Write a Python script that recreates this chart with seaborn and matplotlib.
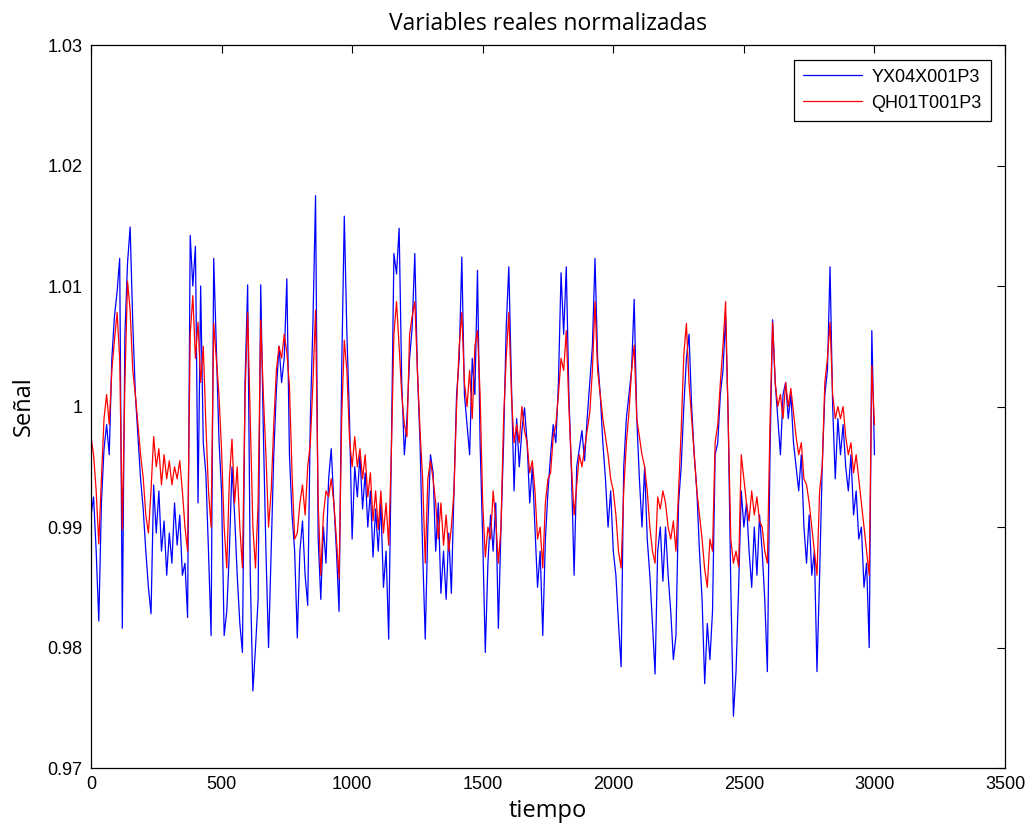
import numpy as np
import pandas as pd
import matplotlib
matplotlib.use("Agg")
import matplotlib.pyplot as plt
import seaborn as sns

# Sample index (every 10 samples)
tiempo = list(range(0, 3001, 10))

yx04 = [
    0.9909, 0.9925, 0.9880, 0.9822, 0.9920, 0.9965, 0.9985, 0.9960, 1.0040, 1.0075,
    1.0095, 1.0123, 0.9816, 1.0060, 1.0119, 1.0149, 1.0070, 1.0010, 0.9975, 0.9940,
    0.9915, 0.9880, 0.9850, 0.9828, 0.9935, 0.9895, 0.9930, 0.9880, 0.9905, 0.9860,
    0.9895, 0.9870, 0.9920, 0.9885, 0.9910, 0.9860, 0.9870, 0.9825, 1.0142, 1.0100,
    1.0133, 0.9920, 1.0100, 0.9970, 0.9944, 0.9880, 0.9810, 1.0123, 1.0050, 0.9973,
    0.9930, 0.9810, 0.9830, 0.9880, 0.9950, 0.9910, 0.9860, 0.9820, 0.9796, 1.0020,
    1.0101, 0.9860, 0.9764, 0.9800, 0.9840, 1.0101, 0.9980, 0.9880, 0.9800, 0.9880,
    0.9960, 1.0014, 1.0050, 1.0020, 1.0040, 1.0106, 0.9960, 0.9910, 0.9880, 0.9808,
    0.9880, 0.9905, 0.9860, 0.9835, 0.9990, 1.0070, 1.0175, 0.9890, 0.9840, 0.9900,
    0.9870, 0.9940, 0.9965, 0.9920, 0.9880, 0.9830, 1.0030, 1.0158, 1.0060, 0.9990,
    0.9890, 0.9950, 0.9925, 0.9960, 0.9915, 0.9945, 0.9900, 0.9930, 0.9875, 0.9915,
    0.9880, 0.9920, 0.9850, 0.9880, 0.9807, 0.9960, 1.0127, 1.0110, 1.0148, 1.0020,
    0.9960, 0.9990, 1.0040, 1.0066, 1.0127, 1.0030, 0.9970, 0.9880, 0.9807, 0.9900,
    0.9960, 0.9945, 0.9880, 0.9920, 0.9845, 0.9880, 0.9840, 0.9895, 0.9845, 0.9930,
    1.0010, 1.0040, 1.0124, 1.0010, 0.9985, 0.9960, 1.0040, 1.0010, 1.0113, 0.9970,
    0.9890, 0.9796, 0.9870, 0.9910, 0.9880, 0.9920, 0.9816, 0.9900, 0.9970, 1.0066,
    1.0116, 1.0020, 0.9930, 0.9990, 0.9950, 0.9980, 0.9999, 0.9970, 0.9920, 0.9950,
    0.9900, 0.9850, 0.9880, 0.9810, 0.9890, 0.9930, 0.9960, 0.9985, 0.9970, 1.0020,
    1.0111, 1.0060, 1.0116, 1.0010, 0.9944, 0.9860, 0.9950, 0.9965, 0.9980, 0.9955,
    0.9990, 1.0020, 1.0050, 1.0123, 1.0040, 1.0010, 0.9970, 0.9940, 0.9900, 0.9930,
    0.9880, 0.9860, 0.9820, 0.9784, 0.9950, 0.9990, 1.0010, 1.0030, 1.0089, 0.9990,
    0.9940, 0.9900, 0.9950, 0.9890, 0.9860, 0.9820, 0.9778, 0.9880, 0.9900, 0.9855,
    0.9900, 0.9860, 0.9830, 0.9790, 0.9810, 0.9920, 0.9950, 1.0000, 1.0040, 1.0060,
    1.0000, 0.9960, 0.9930, 0.9880, 0.9840, 0.9770, 0.9820, 0.9790, 0.9830, 0.9960,
    0.9970, 1.0010, 1.0030, 1.0075, 0.9990, 0.9850, 0.9743, 0.9780, 0.9850, 0.9930,
    0.9900, 0.9920, 0.9880, 0.9850, 0.9900, 0.9860, 0.9910, 0.9880, 0.9840, 0.9780,
    0.9960, 1.0072, 1.0020, 0.9990, 0.9960, 1.0010, 1.0020, 0.9990, 1.0010, 0.9970,
    0.9950, 0.9930, 0.9960, 0.9900, 0.9870, 0.9910, 0.9860, 0.9880, 0.9780, 0.9860,
    0.9950, 1.0010, 1.0030, 1.0116, 1.0000, 0.9940, 0.9990, 0.9960, 0.9985, 0.9950,
    0.9930, 0.9960, 0.9910, 0.9930, 0.9890, 0.9900, 0.9850, 0.9870, 0.9800, 1.0063,
    0.9960,
]

qh01 = [
    0.9975, 0.9960, 0.9930, 0.9886, 0.9940, 0.9990, 1.0010, 0.9985, 1.0030, 1.0055,
    1.0078, 1.0040, 0.9898, 1.0020, 1.0104, 1.0080, 1.0030, 1.0010, 0.9985, 0.9960,
    0.9941, 0.9910, 0.9895, 0.9930, 0.9975, 0.9950, 0.9965, 0.9935, 0.9960, 0.9940,
    0.9955, 0.9935, 0.9950, 0.9940, 0.9955, 0.9930, 0.9900, 0.9880, 1.0060, 1.0092,
    1.0040, 1.0070, 1.0020, 1.0050, 0.9985, 0.9930, 0.9900, 1.0069, 1.0040, 1.0010,
    0.9964, 0.9900, 0.9866, 0.9940, 0.9973, 0.9920, 0.9950, 0.9900, 0.9866, 1.0010,
    1.0078, 0.9990, 0.9900, 0.9866, 0.9920, 1.0072, 1.0010, 0.9960, 0.9900, 0.9930,
    0.9985, 1.0030, 1.0050, 1.0040, 1.0060, 1.0045, 1.0017, 0.9944, 0.9890, 0.9895,
    0.9920, 0.9935, 0.9910, 0.9950, 0.9970, 1.0020, 1.0080, 0.9920, 0.9860, 0.9910,
    0.9930, 0.9925, 0.9940, 0.9920, 0.9890, 0.9857, 0.9990, 1.0055, 1.0030, 0.9973,
    0.9950, 0.9975, 0.9950, 0.9965, 0.9940, 0.9960, 0.9925, 0.9945, 0.9905, 0.9930,
    0.9898, 0.9930, 0.9895, 0.9920, 0.9885, 0.9960, 1.0060, 1.0087, 1.0050, 1.0010,
    0.9985, 0.9975, 1.0060, 1.0075, 1.0087, 1.0030, 0.9980, 0.9940, 0.9870, 0.9940,
    0.9955, 0.9940, 0.9920, 0.9890, 0.9920, 0.9885, 0.9910, 0.9880, 0.9900, 0.9930,
    1.0000, 1.0050, 1.0078, 1.0020, 1.0000, 1.0030, 0.9990, 1.0050, 1.0063, 1.0010,
    0.9920, 0.9875, 0.9900, 0.9890, 0.9930, 0.9905, 0.9870, 0.9900, 0.9990, 1.0040,
    1.0078, 1.0010, 0.9970, 0.9985, 0.9970, 1.0000, 0.9980, 0.9970, 0.9945, 0.9955,
    0.9930, 0.9890, 0.9900, 0.9866, 0.9920, 0.9940, 0.9945, 0.9975, 0.9985, 1.0010,
    1.0040, 1.0030, 1.0063, 1.0000, 0.9950, 0.9910, 0.9935, 0.9960, 0.9950, 0.9965,
    0.9980, 0.9995, 1.0030, 1.0087, 1.0030, 1.0010, 0.9990, 0.9975, 0.9960, 0.9940,
    0.9930, 0.9910, 0.9880, 0.9866, 0.9930, 0.9970, 0.9995, 1.0030, 1.0051, 0.9990,
    0.9975, 0.9960, 0.9950, 0.9930, 0.9900, 0.9880, 0.9870, 0.9925, 0.9915, 0.9930,
    0.9920, 0.9900, 0.9890, 0.9905, 0.9880, 0.9930, 0.9980, 1.0043, 1.0069, 1.0020,
    0.9990, 0.9960, 0.9930, 0.9910, 0.9890, 0.9865, 0.9850, 0.9890, 0.9880, 0.9970,
    0.9985, 1.0020, 1.0050, 1.0087, 0.9990, 0.9890, 0.9870, 0.9880, 0.9867, 0.9960,
    0.9940, 0.9920, 0.9905, 0.9930, 0.9910, 0.9925, 0.9905, 0.9900, 0.9880, 0.9870,
    0.9985, 1.0070, 1.0020, 1.0000, 1.0010, 0.9990, 1.0020, 1.0000, 1.0015, 0.9995,
    0.9975, 0.9960, 0.9970, 0.9940, 0.9935, 0.9920, 0.9900, 0.9880, 0.9860, 0.9930,
    0.9950, 1.0020, 1.0040, 1.0070, 1.0010, 0.9990, 1.0000, 0.9990, 1.0000, 0.9975,
    0.9960, 0.9970, 0.9945, 0.9960, 0.9940, 0.9920, 0.9900, 0.9880, 0.9860, 1.0034,
    0.9985,
]

series_names = ["YX04X001P3", "QH01T001P3"]
x_ticks = [0, 500, 1000, 1500, 2000, 2500, 3000, 3500]
y_ticks = [0.97, 0.98, 0.99, 1.00, 1.01, 1.02, 1.03]
y_tick_labels = ["0.97", "0.98", "0.99", "1", "1.01", "1.02", "1.03"]

df = pd.DataFrame({
    "tiempo": tiempo * 2,
    "valor": yx04 + qh01,
    "serie": [series_names[0]] * len(yx04) + [series_names[1]] * len(qh01),
})

sns.set_style("white")
plt.rcParams["font.family"] = ["Liberation Sans", "DejaVu Sans"]
plt.rcParams["text.color"] = "black"
plt.rcParams["axes.labelcolor"] = "black"

fig = plt.figure(figsize=(10.36, 8.36), dpi=100)
ax = fig.add_axes([0.0878, 0.0813, 0.8823, 0.8648])

sns.lineplot(data=df, x="tiempo", y="valor", hue="serie",
             palette={series_names[0]: "#0000ff", series_names[1]: "#ff0000"},
             linewidth=0.9, ax=ax, legend=True)

ax.set_xlim(0, 3500)
ax.set_ylim(0.97, 1.03)
ax.set_xticks(x_ticks)
ax.set_xticklabels([str(v) for v in x_ticks])
ax.set_yticks(y_ticks)
ax.set_yticklabels(y_tick_labels)
ax.tick_params(direction="in", length=6, width=0.8, top=True, right=True,
               labelsize=13, colors="black", pad=6)

for side in ax.spines.values():
    side.set_color("black")
    side.set_linewidth(0.9)

ax.set_title("Variables reales normalizadas", fontsize=16.5, family="Open Sans",
             color="black", pad=11)
ax.set_xlabel("tiempo", fontsize=17, family="Open Sans", color="black", labelpad=4)
ax.set_ylabel("Señal", fontsize=17, family="Open Sans", color="black", labelpad=8)

leg = ax.legend(loc="upper right", fontsize=13, frameon=True, fancybox=False,
                edgecolor="black", framealpha=1, borderpad=0.5,
                handlelength=3.3, handletextpad=0.5, borderaxespad=0.8)
leg.get_frame().set_linewidth(0.9)
for line in leg.get_lines():
    line.set_linewidth(0.9)
for txt in leg.get_texts():
    txt.set_color("black")

fig.savefig("out.png", dpi=100, facecolor="white")
